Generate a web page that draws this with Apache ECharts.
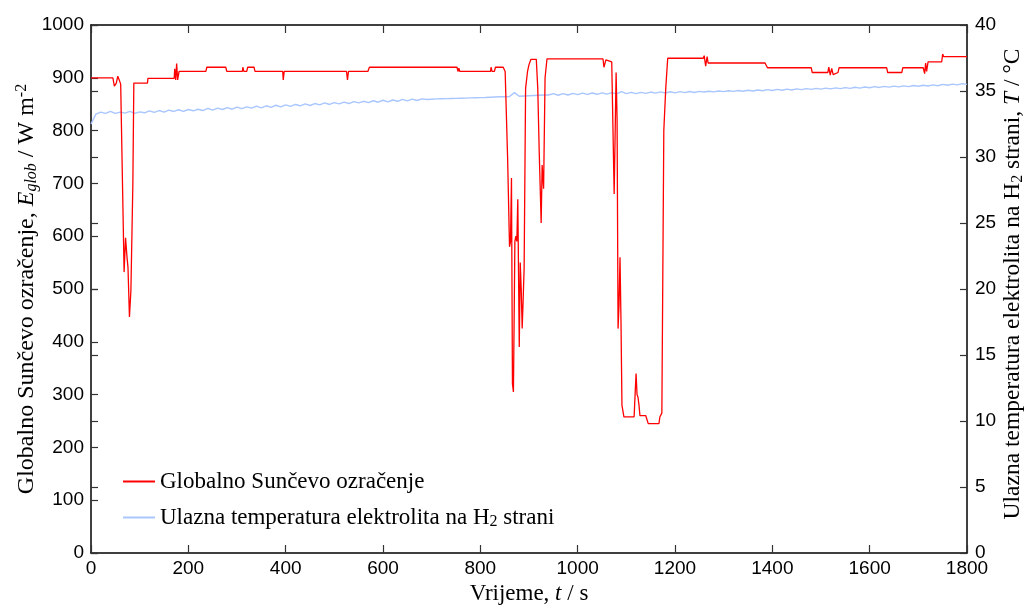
<!DOCTYPE html>
<html>
<head>
<meta charset="utf-8">
<script src="https://cdn.jsdelivr.net/npm/echarts@6/dist/echarts.min.js"></script>
<style>html,body{margin:0;padding:0;background:#fff}#c{width:1027px;height:608px}</style>
</head>
<body>
<div id="c"></div>
<script>
// Globalno Sunčevo ozračenje (time in s, irradiance in W m^-2)
const irrTime = [
  0, 45, 48, 52, 55, 58, 61, 68, 71, 74,
  76, 79, 82, 86, 88, 116, 117, 171, 172, 174,
  176, 178, 181, 236, 238, 277, 279, 311, 312, 314,
  320, 322, 335, 337, 394, 395, 397, 525, 527, 529,
  569, 572, 752, 754, 756, 758, 821, 822, 824, 829,
  831, 847, 851, 856, 860, 862, 864, 866, 868, 871,
  873, 875, 877, 880, 882, 884, 886, 888, 890, 893,
  897, 900, 904, 915, 918, 921, 925, 927, 930, 933,
  937, 1052, 1054, 1058, 1070, 1075, 1079, 1081, 1083, 1085,
  1087, 1089, 1091, 1095, 1116, 1118, 1120, 1122, 1124, 1126,
  1128, 1140, 1145, 1167, 1169, 1173, 1177, 1181, 1185, 1258,
  1260, 1263, 1266, 1268, 1385, 1390, 1480, 1482, 1514, 1516,
  1519, 1522, 1525, 1535, 1537, 1635, 1637, 1666, 1668, 1710,
  1713, 1715, 1717, 1720, 1723, 1748, 1750, 1752, 1800];
const irrValue = [
  900, 900, 884, 890, 903, 896, 888, 532, 597, 560,
  541, 447, 497, 699, 890, 890, 899, 899, 917, 896,
  927, 896, 912, 912, 920, 920, 912, 912, 920, 912,
  912, 920, 920, 912, 912, 896, 912, 912, 896, 912,
  912, 920, 920, 912, 918, 912, 912, 920, 912, 912,
  920, 920, 912, 750, 580, 590, 710, 320, 305, 590,
  600, 590, 670, 390, 550, 500, 425, 480, 540, 880,
  912, 925, 935, 935, 880, 760, 625, 735, 690, 900,
  936, 936, 920, 934, 930, 680, 910, 820, 425, 470,
  560, 440, 280, 258, 258, 300, 340, 300, 295, 280,
  260, 260, 245, 245, 258, 265, 800, 880, 937, 937,
  942, 922, 940, 928, 928, 919, 919, 910, 910, 920,
  905, 918, 906, 910, 919, 919, 910, 910, 919, 919,
  908, 928, 912, 930, 930, 930, 945, 940, 940];

// Ulazna temperatura elektrolita na H2 strani (°C), sampled every 10 s from 0 s
const tempStart = 0, tempStep = 10;
const tempValue = [
32.5,33.25,33.4,33.3,33.45,33.3,33.4,33.32,33.45,33.3,
33.42,33.35,33.5,33.38,33.52,33.4,33.55,33.45,33.58,33.46,
33.6,33.5,33.62,33.52,33.68,33.55,33.7,33.6,33.74,33.62,
33.78,33.66,33.8,33.7,33.85,33.72,33.88,33.76,33.92,33.8,
33.95,33.84,33.98,33.88,34.02,33.9,34.05,33.95,34.1,33.98,
34.12,34.02,34.16,34.05,34.2,34.1,34.22,34.12,34.26,34.15,
34.3,34.18,34.32,34.22,34.36,34.25,34.38,34.28,34.4,34.36,
34.38,34.4,34.41,34.42,34.43,34.44,34.45,34.46,34.48,34.49,
34.5,34.51,34.53,34.55,34.56,34.57,34.58,34.88,34.6,34.62,
34.64,34.66,34.68,34.7,34.7,34.8,34.68,34.8,34.7,34.82,
34.72,34.84,34.74,34.85,34.75,34.86,34.76,34.88,34.78,34.95,
34.8,34.9,34.8,34.9,34.82,34.92,34.84,34.93,34.85,34.94,
34.86,34.95,34.88,34.96,34.89,34.97,34.92,34.98,34.93,35.0,
34.95,35.02,34.97,35.04,34.98,35.06,35.0,35.08,35.02,35.1,
35.04,35.12,35.06,35.14,35.08,35.16,35.1,35.18,35.12,35.2,
35.14,35.22,35.16,35.24,35.18,35.26,35.2,35.28,35.22,35.3,
35.25,35.33,35.27,35.35,35.29,35.37,35.31,35.39,35.33,35.42,
35.36,35.44,35.38,35.46,35.4,35.5,35.44,35.52,35.46,35.56,
35.5];

const xTicks = {min: 0, max: 1800, interval: 200};
const eTicks = {min: 0, max: 1000, interval: 100};
const tTicks = {min: 0, max: 40, interval: 5};

const irrData = irrTime.map((t, i) => [t, irrValue[i]]);
const tempData = tempValue.map((v, i) => [tempStart + i * tempStep, v]);

const serif = 'Liberation Serif, Times New Roman, serif';
const sans = 'Liberation Sans, Arial, sans-serif';
const lineStyle = {color: '#000', width: 1.5};
const tickStyle = {color: '#333', width: 1.2};
const plain = v => String(v);
const FS = 23, SFS = 16, LFS = 24, RFS = 23.5;

const chart = echarts.init(document.getElementById('c'), null, {renderer: 'canvas'});
chart.setOption({
  animation: false,
  backgroundColor: '#fff',
  grid: {left: 91, right: 60, top: 25, bottom: 55, containLabel: false, outerBoundsMode: 'none'},
  legend: {
    orient: 'vertical', left: 118, top: 465, itemWidth: 32, itemHeight: 2, itemGap: 13,
    icon: 'rect',
    textStyle: {fontFamily: serif, fontSize: FS, color: '#000',
      rich: {sub: {fontFamily: serif, fontSize: SFS, verticalAlign: 'bottom', lineHeight: 24, padding: [7,0,0,0]}}},
    formatter: n => n.replace('H2', 'H{sub|2}'),
    data: ['Globalno Sunčevo ozračenje', 'Ulazna temperatura elektrolita na H2 strani']
  },
  xAxis: [
    {type: 'value', position: 'bottom', min: xTicks.min, max: xTicks.max, interval: xTicks.interval,
     axisLine: {show: true, onZero: false, lineStyle}, axisTick: {inside: true, length: 8, lineStyle: tickStyle},
     axisLabel: {fontFamily: sans, fontSize: 19, color: '#000', margin: 6, formatter: plain},
     splitLine: {show: false},
     name: 'Vrijeme, {i|t} / s', nameLocation: 'middle', nameGap: 29, nameMoveOverlap: false,
     nameTextStyle: {fontFamily: serif, fontSize: FS, color: '#000', rich: {i: {fontFamily: serif, fontStyle: 'italic', fontSize: FS}}}},
    {type: 'value', position: 'top', min: xTicks.min, max: xTicks.max, interval: xTicks.interval,
     axisLine: {show: true, onZero: false, lineStyle}, axisTick: {inside: true, length: 8, lineStyle: tickStyle},
     axisLabel: {show: false}, splitLine: {show: false}}
  ],
  yAxis: [
    {type: 'value', position: 'left', min: eTicks.min, max: eTicks.max, interval: eTicks.interval,
     axisLine: {show: true, onZero: false, lineStyle}, axisTick: {inside: true, length: 7, lineStyle: tickStyle},
     axisLabel: {fontFamily: sans, fontSize: 19, color: '#000', margin: 7, formatter: plain},
     splitLine: {show: false},
     name: 'Globalno Sunčevo ozračenje, {i|E}{sub|glob} / W m{sup|-2}', nameLocation: 'middle', nameGap: 51, nameRotate: 90,
     nameMoveOverlap: false,
     nameTextStyle: {fontFamily: serif, fontSize: LFS, color: '#000', lineHeight: 26,
       rich: {
         i: {fontFamily: serif, fontStyle: 'italic', fontSize: LFS, lineHeight: 26},
         sub: {fontFamily: serif, fontStyle: 'italic', fontSize: SFS, lineHeight: 26, verticalAlign: 'bottom', padding: [9,0,0,0]},
         sup: {fontFamily: serif, fontSize: SFS, lineHeight: 26, verticalAlign: 'top', padding: [0,0,9,0]}
       }}},
    {type: 'value', position: 'right', min: tTicks.min, max: tTicks.max, interval: tTicks.interval,
     axisLine: {show: true, onZero: false, lineStyle}, axisTick: {inside: true, length: 7, lineStyle: tickStyle},
     axisLabel: {fontFamily: sans, fontSize: 19, color: '#000', margin: 8, formatter: plain},
     splitLine: {show: false},
     name: 'Ulazna temperatura elektrolita na H{sub|2} strani, {i|T} / °C', nameLocation: 'middle', nameGap: 33, nameRotate: 90,
     nameMoveOverlap: false,
     nameTextStyle: {fontFamily: serif, fontSize: RFS, color: '#000', lineHeight: 26, padding: [0, 0, 0, 10],
       rich: {
         i: {fontFamily: serif, fontStyle: 'italic', fontSize: RFS, lineHeight: 26},
         sub: {fontFamily: serif, fontSize: SFS, lineHeight: 26, verticalAlign: 'bottom', padding: [9,0,0,0]}
       }}},
    {type: 'value', position: 'left', min: tTicks.min, max: tTicks.max, interval: tTicks.interval,
     axisLine: {show: false, onZero: false}, axisTick: {inside: true, length: 7, lineStyle: tickStyle},
     axisLabel: {show: false}, splitLine: {show: false}}
  ],
  series: [
    {name: 'Globalno Sunčevo ozračenje', type: 'line', xAxisIndex: 0, yAxisIndex: 0, data: irrData,
     showSymbol: false, symbol: 'none', lineStyle: {color: '#ff0000', width: 1.3}, itemStyle: {color: '#ff0000'}, z: 3},
    {name: 'Ulazna temperatura elektrolita na H2 strani', type: 'line', xAxisIndex: 0, yAxisIndex: 1, data: tempData,
     showSymbol: false, symbol: 'none', lineStyle: {color: '#a9c6ff', width: 1.4}, itemStyle: {color: '#a9c6ff'}, z: 2}
  ]
});
</script>
</body>
</html>
